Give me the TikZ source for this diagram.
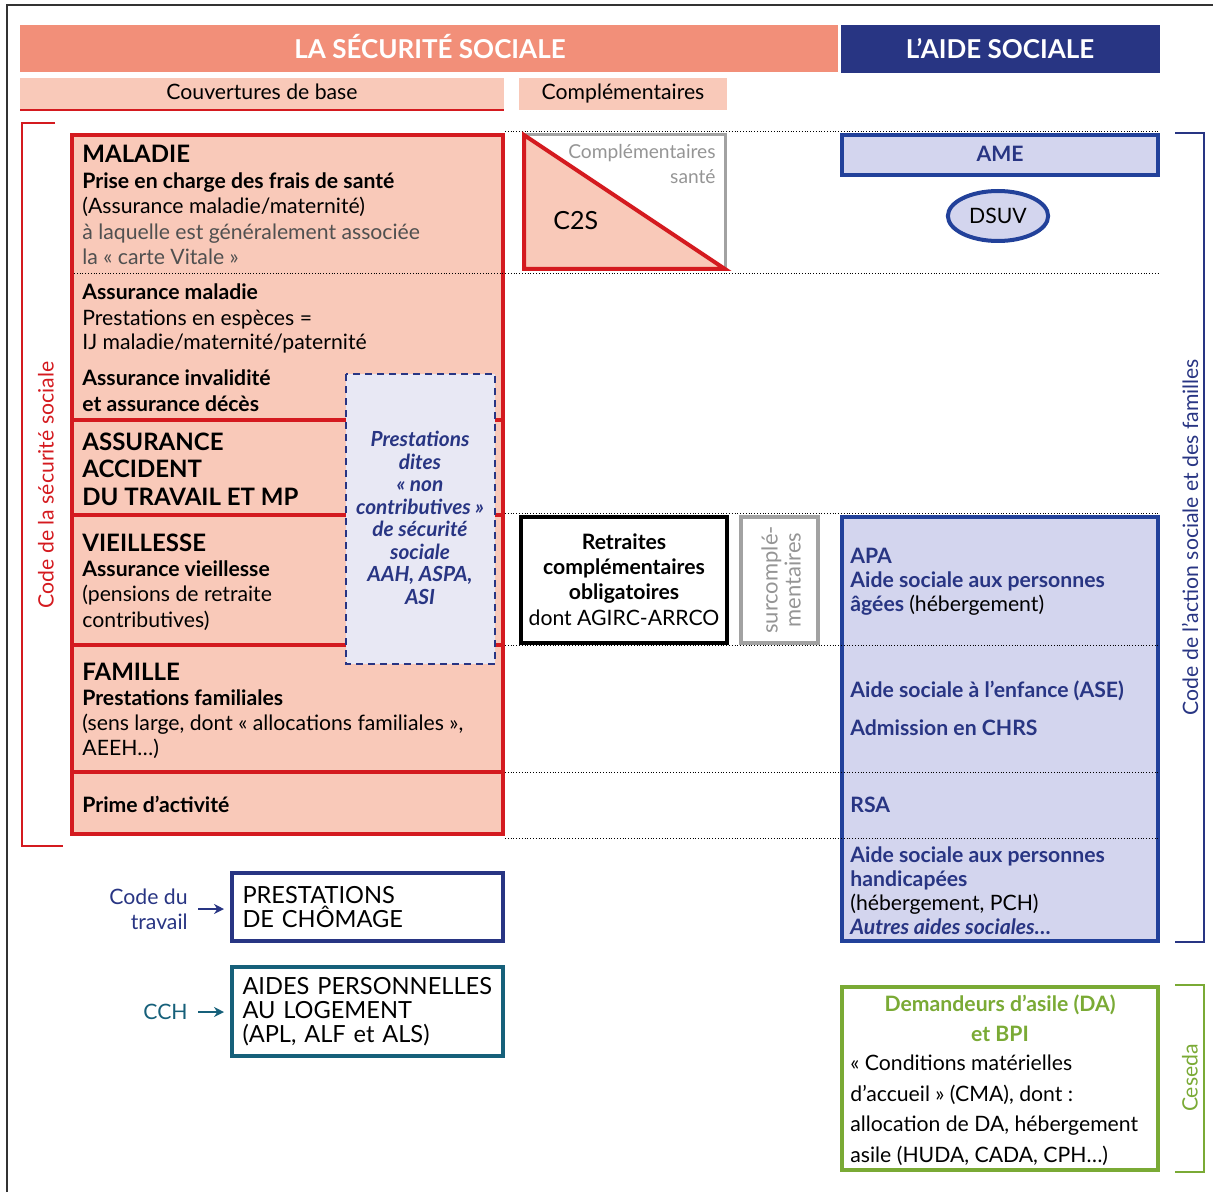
\documentclass[tikz,border=0pt]{standalone}
\usepackage{fontspec}
\setmainfont{Lato}
\usetikzlibrary{positioning,arrows.meta,shapes.geometric}

\definecolor{saumon}{HTML}{F28F79}
\definecolor{rosepale}{HTML}{F9C9B9}
\definecolor{rouge}{HTML}{D41A1F}
\definecolor{marine}{HTML}{283583}
\definecolor{bleubord}{HTML}{22419A}
\definecolor{lavande}{HTML}{D3D5EE}
\definecolor{lavpale}{HTML}{E8E8F4}
\definecolor{sarcelle}{HTML}{16607A}
\definecolor{vert}{HTML}{7AAA35}
\definecolor{grisbord}{HTML}{A2A2A2}
\definecolor{gristxt}{HTML}{959595}
\definecolor{grisfonce}{HTML}{505050}
\definecolor{cadre}{HTML}{333333}

\newcommand{\fhead}{\fontsize{13}{14}\selectfont\bfseries}
\newcommand{\ftitre}{\fontsize{12}{13.75}\selectfont\bfseries}
\newcommand{\fcorps}{\fontsize{10.6}{12.5}\selectfont}
\newcommand{\fcadre}{\fontsize{11.8}{12}\selectfont}

\tikzset{
    entete/.style={anchor=base, text=white, font=\fhead},
    bloc/.style={anchor=base west, inner sep=0pt, align=left, font=\fcorps},
    titre/.style={anchor=base west, inner sep=0pt, align=left, font=\ftitre},
    caserouge/.style={fill=rosepale, draw=rouge, line width=2pt},
    casebleue/.style={fill=lavande, draw=bleubord, line width=2pt},
    trait/.style={rouge, line width=2pt},
    pointille/.style={densely dotted, line width=0.4pt},
    accolade/.style={line width=0.8pt},
    fleche/.style={-{Stealth[length=5pt,width=5pt]}, line width=1pt, shorten <=5pt, shorten >=3pt},
    cadrebas/.style={draw, line width=2pt, fill=white, anchor=north west, minimum width=135.5pt,
        text width=125pt, align=left, inner xsep=5pt, font=\fcadre}
}

\begin{document}
\begin{tikzpicture}[x=0.5pt, y=-0.5pt]
\useasboundingbox (0,0) rectangle (1213,1192);
\draw[cadre, line width=0.6pt] (7,1192) -- (7,5) -- (1213,5);

% en-tetes
\fill[saumon] (20,25) rectangle (838,72);
\fill[marine] (841,25) rectangle (1160,73);
\node[entete] (secu) at (430,59) {LA SÉCURITÉ SOCIALE};
\node[entete] (aide) at (1000,59) {L’AIDE SOCIALE};
\fill[rosepale] (20,78) rectangle (504,110);
\draw[rouge, line width=0.7pt] (20,110) -- (504,110);
\fill[rosepale] (519,78) rectangle (727,110);
\node[anchor=base, font=\fcorps] (base) at (262,100) {Couvertures de base};
\node[anchor=base, font=\fcorps] (compl) at (623,100) {Complémentaires};

% accolade securite sociale
\draw[rouge, accolade] (55,123) -- (22,123) -- (22,846) -- (63,846);
\node[rotate=90, rouge, font=\fcorps] (codess) at (46,485) {Code de la sécurité sociale};

% colonne rouge
\filldraw[caserouge] (72,135) rectangle (503,834);
\draw[trait] (72,420) -- (503,420);
\draw[trait] (72,515) -- (503,515);
\draw[trait] (72,645) -- (503,645);
\draw[trait] (72,772) -- (503,772);

% colonne bleue
\filldraw[casebleue] (842,135) rectangle (1158,175);
\filldraw[casebleue] (842,517) rectangle (1158,941);
\node[ellipse, draw=bleubord, fill=lavande, line width=2pt, minimum width=46pt,
      minimum height=25pt, font=\fcorps] (dsuv) at (998,216) {DSUV};

% separations
\draw[pointille] (505,131) -- (1160,131);
\draw[pointille] (74,273) -- (1160,273);
\draw[pointille] (505,513) -- (1160,513);
\draw[pointille] (505,645) -- (1160,645);
\draw[pointille] (505,772) -- (1160,772);
\draw[pointille] (505,838) -- (1160,838);

% prestations non contributives
\filldraw[fill=lavpale, draw=marine, line width=1pt, dash pattern=on 3.5pt off 2.5pt]
    (346,374) rectangle (495,664);
\node[anchor=base, align=center, inner sep=0pt, text=marine,
      font=\fontsize{10.4}{11.25}\selectfont\bfseries\itshape] (noncontrib) at (420,604)
    {Prestations\\dites\\« non\\contributives »\\de sécurité\\sociale\\AAH, ASPA,\\ASI};

% textes rouges (base = derniere ligne)
\node[titre] (maladie) at (82,163) {MALADIE};
\node[bloc] (frais) at (82,264) {\textbf{Prise en charge des frais de santé}\\(Assurance maladie/maternité)\\
    \textcolor{grisfonce}{à laquelle est généralement associée}\\\textcolor{grisfonce}{la « carte Vitale »}};
\node[bloc] (ij) at (82,350) {\textbf{Assurance maladie}\\Prestations en espèces =\\IJ maladie/maternité/paternité};
\node[bloc, font=\fontsize{10.6}{13}\selectfont\bfseries] (inval) at (82,411) {Assurance invalidité\\et assurance décès};
\node[titre] (atmp) at (82,505) {ASSURANCE\\ACCIDENT\\DU TRAVAIL ET MP};
\node[titre] (vieil) at (82,551) {VIEILLESSE};
\node[bloc, font=\fontsize{10.6}{12.75}\selectfont] (pension) at (82,627)
    {\textbf{Assurance vieillesse}\\(pensions de retraite\\contributives)};
\node[titre] (famille) at (82,680) {FAMILLE};
\node[bloc] (presta) at (82,755)
    {\textbf{Prestations familiales}\\(sens large, dont « allocations familiales »,\\AEEH…)};
\node[bloc, font=\fcorps\bfseries] (prime) at (82,812) {Prime d’activité};

% complementaires
\draw[grisbord, line width=1.5pt] (524,135) rectangle (725,269);
\filldraw[fill=rosepale, draw=rouge, line width=2pt] (524,135) -- (524,269) -- (725,269) -- cycle;
\node[anchor=base east, align=right, inner sep=0pt, text=gristxt, font=\fontsize{9.6}{12.5}\selectfont] (cs)
    at (716,184) {Complémentaires\\santé};
\node[anchor=base west, inner sep=0pt, font=\fontsize{12.5}{13}\selectfont] (c2s) at (553,230) {C2S};

\draw[line width=2pt] (521,517) rectangle (727,643);
\node[anchor=base, align=center, inner sep=0pt, font=\fontsize{10.6}{12.65}\selectfont] (retr) at (624,625)
    {\textbf{Retraites}\\\textbf{complémentaires}\\\textbf{obligatoires}\\dont AGIRC-ARRCO};
\draw[grisbord, line width=2pt] (741,517) rectangle (818,643);
\node[rotate=90, align=center, text=gristxt, font=\fontsize{11}{11.5}\selectfont] (surc) at (781,580)
    {surcomplé-\\mentaires};

% textes bleus
\node[anchor=base, text=marine, font=\fcorps\bfseries] (ame) at (1000,162) {AME};
\node[bloc, text=marine, font=\fontsize{10.6}{12}\selectfont\bfseries] (apa) at (850,611)
    {APA\\Aide sociale aux personnes\\âgées \textcolor{black}{\mdseries(hébergement)}};
\node[bloc, text=marine, font=\fcorps\bfseries] (ase) at (850,697) {Aide sociale à l’enfance (ASE)};
\node[bloc, text=marine, font=\fcorps\bfseries] (chrs) at (850,735) {Admission en CHRS};
\node[bloc, text=marine, font=\fcorps\bfseries] (rsa) at (850,812) {RSA};
\node[bloc, text=marine, font=\fontsize{10.6}{11.85}\selectfont\bfseries] (handi) at (850,934)
    {Aide sociale aux personnes\\handicapées\\\textcolor{black}{\mdseries(hébergement, PCH)}\\\textit{Autres aides sociales…}};

\draw[marine, accolade] (1175,133) -- (1204,133) -- (1204,942) -- (1175,942);
\node[rotate=90, text=marine, font=\fcorps] (casf) at (1190,537) {Code de l’action sociale et des familles};

% chomage et logement
\node[cadrebas, draw=marine, minimum height=34pt] (chom) at (230,871) {PRESTATIONS\\DE CHÔMAGE};
\node[cadrebas, draw=sarcelle, minimum height=44.5pt] (logt) at (230,965)
    {AIDES PERSONNELLES\\AU LOGEMENT\\(APL, ALF et ALS)};
\node[anchor=east, align=right, inner sep=0pt, text=marine, font=\fcorps] (codetr) at (188,909)
    {Code du\\travail};
\node[anchor=east, inner sep=0pt, text=sarcelle, font=\fcorps] (cch) at (188,1012) {CCH};
\draw[fleche, marine] (codetr.east) -- (codetr.east -| chom.west);
\draw[fleche, sarcelle] (cch.east) -- (cch.east -| logt.west);

% asile
\draw[vert, line width=2pt] (842,987) rectangle (1158,1170);
\node[anchor=base, align=center, inner sep=0pt, text=vert, font=\fontsize{10.6}{15}\selectfont\bfseries] (da)
    at (1000,1041) {Demandeurs d’asile (DA)\\et BPI};
\node[bloc, font=\fontsize{10.6}{15.2}\selectfont] (cma) at (850,1162)
    {« Conditions matérielles\\d’accueil » (CMA), dont :\\allocation de DA, hébergement\\asile (HUDA, CADA, CPH…)};
\draw[vert, accolade] (1175,985) -- (1204,985) -- (1204,1172) -- (1175,1172);
\node[rotate=90, text=vert, font=\fcorps] (ceseda) at (1190,1078) {Ceseda};
\end{tikzpicture}
\end{document}
